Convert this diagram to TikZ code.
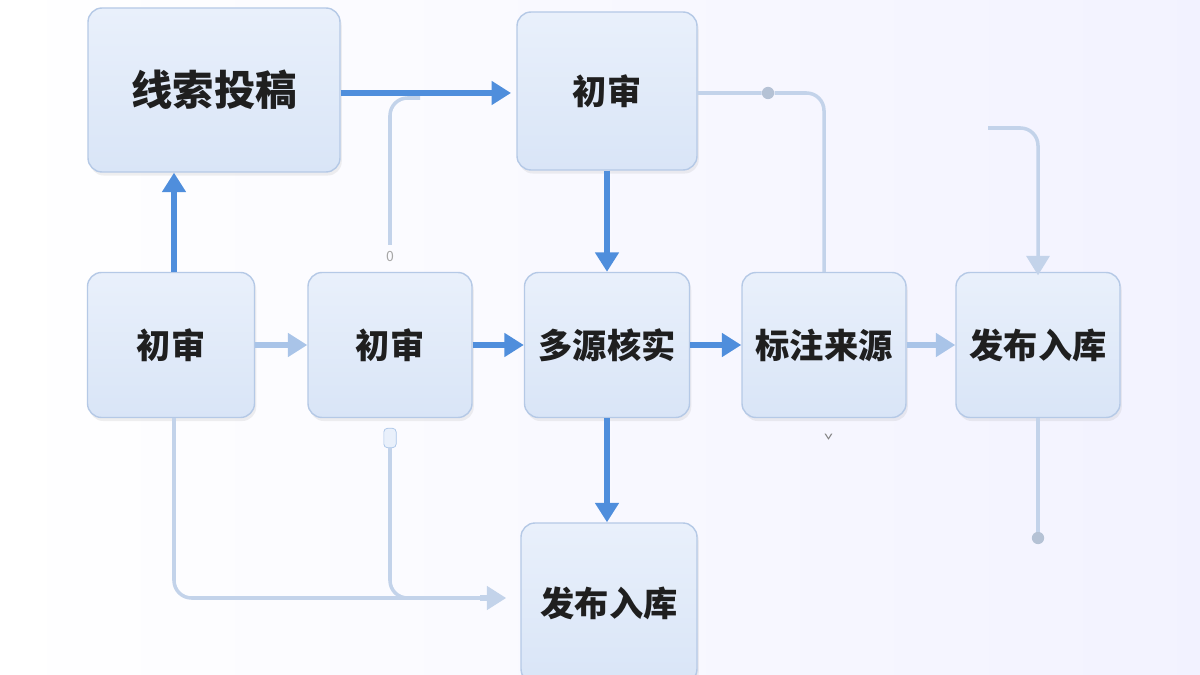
\documentclass[tikz,border=0pt]{standalone}
\usepackage{fontspec}
\setmainfont{Noto Sans CJK SC}
\usetikzlibrary{arrows.meta,shadows}
\definecolor{bord}{HTML}{B5C9E6}
\definecolor{boxa}{HTML}{E9F0FB}
\definecolor{boxb}{HTML}{D9E5F7}
\definecolor{blu}{HTML}{4F8EDC}
\definecolor{lig}{HTML}{A9C4E8}
\definecolor{lin}{HTML}{C3D3EA}
\begin{document}
\begin{tikzpicture}[x=0.02cm,y=-0.02cm,
 box/.style={draw=bord,line width=0.8pt,rounded corners=8pt,top color=boxa,bottom color=boxb,
   drop shadow={shadow xshift=1pt,shadow yshift=-2pt,opacity=0.12},
   font=\fontsize{19.5}{22}\bfseries\selectfont\color{black!88},inner sep=0pt},
 main/.style={-{Triangle[length=11pt,width=13pt]},line width=3pt,draw=blu},
 soft/.style={-{Triangle[length=11pt,width=13pt]},line width=3pt,draw=lig},
 thin/.style={line width=2pt,draw=lin,rounded corners=10pt},
 dot/.style={circle,fill=lin!80!gray,inner sep=0pt,minimum size=7pt}]
\shade[left color=white,right color=blue!5] (0,0) rectangle (1200,675);
\useasboundingbox (0,0) rectangle (1200,675);
\node[box,minimum width=252*0.02cm,minimum height=164*0.02cm,font=\fontsize{23.5}{26}\bfseries\selectfont\color{black!88}] (A) at (214,90) {线索投稿};
\node[box,minimum width=180*0.02cm,minimum height=158*0.02cm] (B) at (607,91) {初审};
\node[box,minimum width=167*0.02cm,minimum height=145*0.02cm] (C) at (171,345) {初审};
\node[box,minimum width=164*0.02cm,minimum height=145*0.02cm] (D) at (390,345) {初审};
\node[box,minimum width=165*0.02cm,minimum height=145*0.02cm] (E) at (607,345) {多源核实};
\node[box,minimum width=164*0.02cm,minimum height=145*0.02cm] (F) at (824,345) {标注来源};
\node[box,minimum width=164*0.02cm,minimum height=145*0.02cm] (G) at (1038,345) {发布入库};
\node[box,minimum width=176*0.02cm,minimum height=160*0.02cm] (H) at (609,603) {发布入库};
% thin lines
\coordinate (p1) at (390,245);
\node[font=\fontsize{8}{8}\selectfont\color{gray!70}] (z) at (390,256) {0};
\draw[thin] (p1) -- (390,98) -- (420,98);
\node[dot] (d1) at (768,93) {};
\draw[thin] (B.east|-0,93) -- (d1) -- (824,93) -- (F.north);
\coordinate (q1) at (988,128);
\draw[thin,-{Triangle[length=11pt,width=13pt]},draw=lin] (q1) -- (1038,128) -- ([yshift=-2pt]G.north);
\node[dot] (d2) at (1038,538) {};
\draw[line width=2pt,draw=lin] (G.south) -- (d2);
\draw[thin] (C.south-|174,0) -- (174,598) -- (500,598);
\node[draw=lig,fill=boxa,rounded corners=2pt,minimum width=7pt,minimum height=11pt,inner sep=0pt] (pill) at (390,438) {};
\draw[thin] (pill) -- (390,598) -- (420,598);
\draw[soft,draw=lin] (480,598) -- ([xshift=-8pt]H.west|-0,598);
\node[font=\fontsize{9}{9}\selectfont\color{gray}] (ic) at (822,440) {\v{}};
% main arrows
\draw[main] (C.north-|174,0) -- (A.south-|174,0);
\draw[main] (A.east|-0,93) -- ([xshift=-3pt]B.west|-0,93);
\draw[main] (B.south) -- (E.north);
\draw[soft] (C.east) -- (D.west);
\draw[main] (D.east) -- (E.west);
\draw[main] (E.east) -- (F.west);
\draw[soft] (F.east) -- (G.west);
\draw[main] (E.south) -- (E.south|-H.north);
\end{tikzpicture}
\end{document}
